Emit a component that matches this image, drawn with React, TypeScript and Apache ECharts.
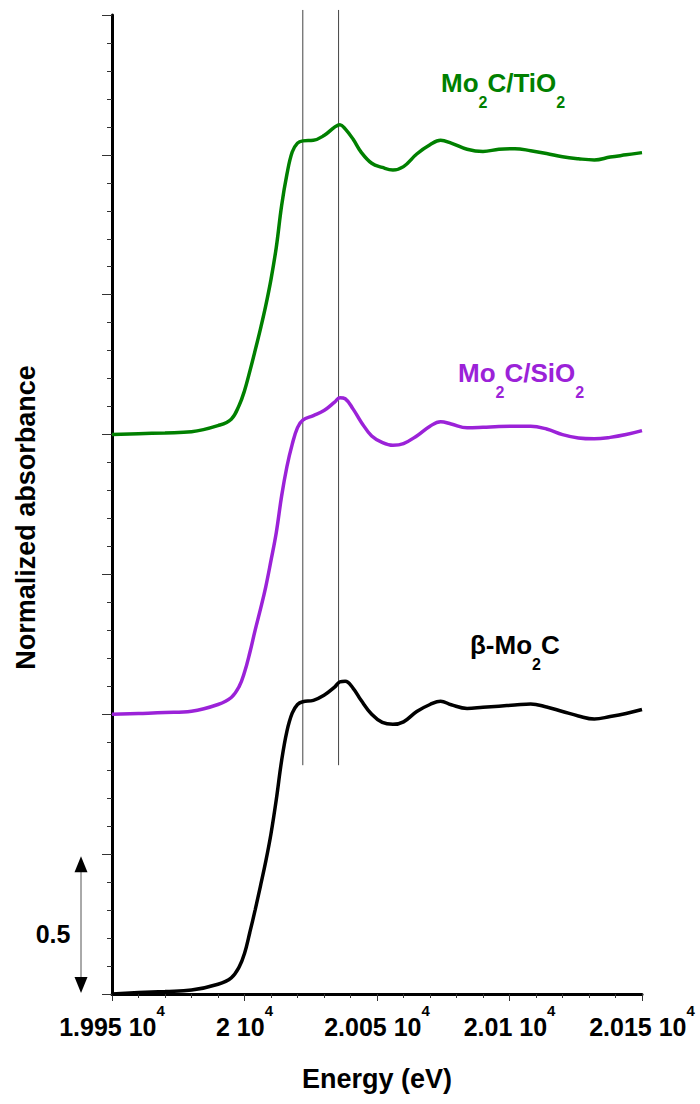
import { useEffect, useRef } from "react";
import * as echarts from "echarts";

// Energy grid (eV)
const energy = [
  19950, 19960, 19970, 19980, 19990, 19995, 19998, 20000, 20002, 20004,
  20006, 20008, 20010, 20012, 20014, 20016, 20018, 20020, 20022, 20026,
  20030, 20034, 20036, 20038, 20041, 20044, 20048, 20052, 20056, 20060,
  20065, 20070, 20074, 20078, 20084, 20090, 20096, 20102, 20108, 20114,
  20120, 20126, 20132, 20138, 20144, 20150,
];

// Normalized absorbance (before vertical offset)
const betaMo2C = [
  0.0, 0.005, 0.009, 0.014, 0.035, 0.058, 0.097, 0.145, 0.22, 0.3,
  0.385, 0.473, 0.573, 0.695, 0.834, 0.939, 1.004, 1.035, 1.045, 1.05,
  1.068, 1.097, 1.116, 1.118, 1.093, 1.05, 1.0, 0.971, 0.964, 0.973,
  1.01, 1.035, 1.047, 1.034, 1.021, 1.025, 1.029, 1.033, 1.037, 1.026,
  1.01, 0.994, 0.983, 0.992, 1.003, 1.017,
];
const mo2cSiO2 = [
  0.0, 0.003, 0.006, 0.011, 0.035, 0.06, 0.1, 0.15, 0.22, 0.3,
  0.375, 0.455, 0.55, 0.65, 0.78, 0.885, 0.965, 1.025, 1.052, 1.068,
  1.086, 1.116, 1.132, 1.128, 1.091, 1.045, 0.995, 0.972, 0.962, 0.968,
  0.995, 1.03, 1.046, 1.038, 1.024, 1.026, 1.029, 1.03, 1.03, 1.02,
  1.0, 0.988, 0.985, 0.99, 1.0, 1.014,
];
const mo2cTiO2 = [
  0.0, 0.003, 0.006, 0.01, 0.032, 0.055, 0.105, 0.157, 0.226, 0.3,
  0.377, 0.46, 0.555, 0.67, 0.818, 0.93, 1.01, 1.042, 1.05, 1.052,
  1.069, 1.099, 1.108, 1.093, 1.056, 1.01, 0.97, 0.955, 0.946, 0.958,
  1.003, 1.036, 1.052, 1.042, 1.02, 1.012, 1.02, 1.022, 1.015, 1.005,
  0.993, 0.986, 0.982, 0.992, 1.0, 1.008,
];

const offsets = [0, 1, 2];
const refLines = [20022, 20035.5];
const refLineRange = [0.818, 3.518];
const scaleBar = 0.5;

const FONT = '"Liberation Sans", Arial, Helvetica, sans-serif';
const GREEN = "#008000";
const PURPLE = "#9B22D8";
const BLACK = "#000000";

const labelRich = (color: string) => ({
  m: {
    fill: color,
    fontFamily: FONT,
    fontWeight: "bold",
    fontSize: 26,
    lineHeight: 40,
    verticalAlign: "top",
  },
  s: {
    fill: color,
    fontFamily: FONT,
    fontWeight: "bold",
    fontSize: 16,
    lineHeight: 40,
    verticalAlign: "bottom",
  },
});

export default function App() {
  const ref = useRef<HTMLDivElement>(null);

  useEffect(() => {
    const chart = echarts.init(ref.current!, undefined, { renderer: "svg" });
    const mk = (vals: number[], off: number) =>
      energy.map((e, i) => [e, vals[i] + off]);

    const lineSeries = (vals: number[], off: number, color: string) => ({
      type: "line",
      data: mk(vals, off),
      showSymbol: false,
      smooth: 0.4,
      silent: true,
      z: 3,
      lineStyle: { color, width: 3.5 },
      itemStyle: { color },
    });

    const refSeries = refLines.map((e) => ({
      type: "line",
      data: [
        [e, refLineRange[0]],
        [e, refLineRange[1]],
      ],
      showSymbol: false,
      silent: true,
      clip: false,
      z: 2,
      lineStyle: { color: "#444", width: 1 },
      itemStyle: { color: "#444" },
    }));

    chart.setOption({
      animation: false,
      grid: { left: 112, right: 58, top: 15, bottom: 110 },
      xAxis: {
        type: "value",
        min: 19950,
        max: 20150,
        interval: 50,
        name: "Energy (eV)",
        nameLocation: "middle",
        nameGap: 71,
        nameTextStyle: {
          fontFamily: FONT,
          fontWeight: "bold",
          fontSize: 27,
          color: "#000",
        },
        axisLine: { show: true, onZero: false, lineStyle: { color: "#000", width: 3 } },
        axisTick: { show: true, length: 7, lineStyle: { color: "#333", width: 1 } },
        minorTick: { show: true, splitNumber: 5, length: 4, lineStyle: { color: "#333", width: 1 } },
        splitLine: { show: false },
        minorSplitLine: { show: false },
        axisLabel: {
          margin: 9,
          formatter: (v: number) => `{m|${+(v / 1e4).toFixed(3)} 10}{s|4}`,
          rich: {
            m: {
              fontFamily: FONT,
              fontWeight: "bold",
              fontSize: 25,
              color: "#000",
              lineHeight: 36,
              verticalAlign: "bottom",
            },
            s: {
              fontFamily: FONT,
              fontWeight: "bold",
              fontSize: 15,
              color: "#000",
              lineHeight: 12,
              verticalAlign: "top",
            },
          },
        },
      },
      yAxis: {
        type: "value",
        min: 0,
        max: 3.5,
        interval: 0.5,
        name: "Normalized absorbance",
        nameLocation: "middle",
        nameRotate: 90,
        nameGap: 73,
        nameTextStyle: {
          fontFamily: FONT,
          fontWeight: "bold",
          fontSize: 27,
          color: "#000",
          padding: [0, 26, 0, 0],
        },
        axisLine: { show: true, lineStyle: { color: "#000", width: 3 } },
        axisTick: { show: true, length: 10, lineStyle: { color: "#333", width: 1 } },
        minorTick: { show: true, splitNumber: 5, length: 5, lineStyle: { color: "#333", width: 1 } },
        axisLabel: { show: false },
        splitLine: { show: false },
        minorSplitLine: { show: false },
      },
      series: [
        ...refSeries,
        lineSeries(betaMo2C, offsets[0], BLACK),
        lineSeries(mo2cSiO2, offsets[1], PURPLE),
        lineSeries(mo2cTiO2, offsets[2], GREEN),
      ],
    });

    const p0 = chart.convertToPixel({ gridIndex: 0 }, [19950, 0]) as number[];
    const p1 = chart.convertToPixel({ gridIndex: 0 }, [19950, scaleBar]) as number[];
    const ax = p0[0] - 31;
    const yTop = p1[1] + 2;
    const yBot = p0[1] - 1;

    chart.setOption({
      graphic: [
        {
          type: "line",
          silent: true,
          shape: { x1: ax, y1: yTop + 12, x2: ax, y2: yBot - 12 },
          style: { stroke: "#555", lineWidth: 1 },
        },
        {
          type: "polygon",
          silent: true,
          shape: { points: [[ax, yTop], [ax - 6.5, yTop + 16], [ax + 6.5, yTop + 16]] },
          style: { fill: "#000" },
        },
        {
          type: "polygon",
          silent: true,
          shape: { points: [[ax, yBot], [ax - 6.5, yBot - 16], [ax + 6.5, yBot - 16]] },
          style: { fill: "#000" },
        },
        {
          type: "text",
          silent: true,
          x: ax - 28,
          y: p0[1] - 60,
          style: {
            text: "0.5",
            fill: "#000",
            font: `bold 25px ${FONT}`,
            align: "center",
            verticalAlign: "middle",
          },
        },
        {
          type: "text",
          silent: true,
          x: 441,
          y: 70,
          style: {
            text: "{m|Mo}{s|2}{m|C/TiO}{s|2}",
            rich: labelRich(GREEN),
            align: "left",
            verticalAlign: "top",
          },
        },
        {
          type: "text",
          silent: true,
          x: 458,
          y: 360,
          style: {
            text: "{m|Mo}{s|2}{m|C/SiO}{s|2}",
            rich: labelRich(PURPLE),
            align: "left",
            verticalAlign: "top",
          },
        },
        {
          type: "text",
          silent: true,
          x: 470,
          y: 632,
          style: {
            text: "{m|β-Mo}{s|2}{m|C}",
            rich: labelRich(BLACK),
            align: "left",
            verticalAlign: "top",
          },
        },
      ],
    });

    return () => chart.dispose();
  }, []);

  return (
    <div
      ref={ref}
      style={{ position: "absolute", left: 0, top: 0, width: 700, height: 1104 }}
    />
  );
}
